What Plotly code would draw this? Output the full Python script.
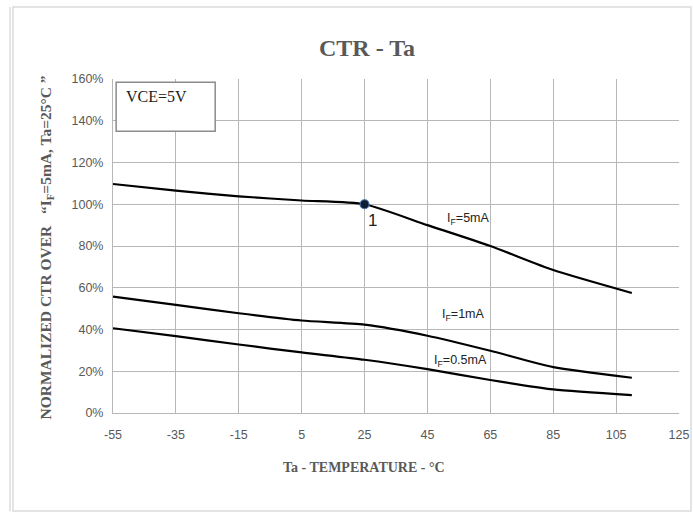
import plotly.graph_objects as go

temps = [-55, -35, -15, 5, 25, 45, 65, 85, 110]
ctr_5mA = [109.7, 106.5, 103.8, 101.8, 100.0, 90.0, 80.0, 68.5, 57.5]
ctr_1mA = [55.8, 51.8, 47.8, 44.3, 42.3, 37.0, 29.8, 22.0, 16.9]
ctr_05mA = [40.6, 36.8, 32.8, 29.0, 25.5, 21.0, 15.8, 11.3, 8.6]
series_labels = ["I<sub>F</sub>=5mA", "I<sub>F</sub>=1mA", "I<sub>F</sub>=0.5mA"]
label_pos = [(58, 93), (56.5, 47), (55.5, 24.8)]
x_ticks = [-55, -35, -15, 5, 25, 45, 65, 85, 105, 125]
y_ticks = [0, 20, 40, 60, 80, 100, 120, 140, 160]
ref_point = (25, 100.0)

fig = go.Figure()
for ys in [ctr_5mA, ctr_1mA, ctr_05mA]:
    fig.add_trace(go.Scatter(x=temps, y=ys, mode="lines",
                             line=dict(color="black", width=2.2, shape="spline", smoothing=0.6),
                             showlegend=False, hoverinfo="skip"))
fig.add_trace(go.Scatter(x=[ref_point[0]], y=[ref_point[1]], mode="markers",
                         marker=dict(color="#0d1b33", size=9, line=dict(color="#4a6fa5", width=1.2)),
                         showlegend=False, hoverinfo="skip"))

grid = "#b7b7b7"
fig.update_layout(
    width=693, height=513, autosize=False,
    margin=dict(l=113, r=14, t=79, b=100, autoexpand=False),
    paper_bgcolor="white", plot_bgcolor="white",
    title=dict(text="<b>CTR - Ta</b>", xref="paper", x=(367 - 113) / 566, xanchor="center",
               y=0.908, yanchor="middle",
               font=dict(family="Liberation Serif", size=24, color="#595959")),
    xaxis=dict(range=[-55, 125], tickvals=x_ticks, ticktext=[str(v) for v in x_ticks],
               showgrid=True, gridcolor=grid, gridwidth=1, zeroline=False, automargin=False,
               showline=True, linecolor=grid, linewidth=1, mirror=False,
               ticks="", tickfont=dict(family="Liberation Sans", size=12.5, color="#595959"),
               ticklabelstandoff=10),
    yaxis=dict(range=[0, 160], tickvals=y_ticks, ticktext=[f"{v}%" for v in y_ticks],
               showgrid=True, gridcolor=grid, gridwidth=1, zeroline=False, automargin=False,
               showline=True, linecolor=grid, linewidth=1,
               ticks="", tickfont=dict(family="Liberation Sans", size=12.5, color="#595959"),
               ticklabelstandoff=6),
)

annotations = []
for lab, (lx, ly) in zip(series_labels, label_pos):
    annotations.append(dict(x=lx, y=ly, xref="x", yref="y", text=lab, showarrow=False,
                            font=dict(family="Liberation Sans", size=12.5, color="#222222")))
annotations.append(dict(x=ref_point[0] + 0.3, y=ref_point[1] - 2.5, xref="x", yref="y", text="1",
                        showarrow=False, xanchor="left", yanchor="top",
                        font=dict(family="Liberation Sans", size=17, color="#222222")))
annotations.append(dict(x=-51.5, y=151.5, xref="x", yref="y", text="VCE=5V", showarrow=False,
                        xanchor="left", yanchor="middle",
                        font=dict(family="Liberation Serif", size=16, color="#222222")))
annotations.append(dict(x=(35 - 113) / 566, y=(413 - 248) / 334, xref="paper", yref="paper",
                        text="<b>NORMALIZED CTR OVER   \u201cI<sub>F</sub>=5mA, Ta=25\u00b0C \u201d</b>",
                        textangle=-90, showarrow=False,
                        font=dict(family="Liberation Serif", size=15.5, color="#595959")))
annotations.append(dict(x=(364 - 113) / 566, y=(413 - 477) / 334, xref="paper", yref="paper",
                        text="<b>Ta - TEMPERATURE - \u00b0C</b>", showarrow=False,
                        font=dict(family="Liberation Serif", size=14, color="#595959")))
fig.update_layout(annotations=annotations)

shapes = [
    dict(type="rect", xref="x", yref="y", x0=-54, x1=-22.5, y0=135, y1=158.5,
         line=dict(color="#8c8c8c", width=1.5), fillcolor="white", layer="above"),
    dict(type="rect", xref="paper", yref="paper", x0=(13 - 113) / 566, x1=(691 - 113) / 566,
         y0=(413 - 511) / 334, y1=(413 - 7) / 334, line=dict(color="#dcdcdc", width=1.5)),
    dict(type="line", xref="paper", yref="paper", x0=(10 - 113) / 566, x1=(10 - 113) / 566,
         y0=(413 - 511) / 334, y1=(413 - 7) / 334, line=dict(color="#dcdcdc", width=1.5)),
]
fig.update_layout(shapes=shapes)

fig.write_html("out.html", config={"displayModeBar": False, "responsive": False},
               post_script="document.body.style.margin='0';document.body.style.padding='0';document.body.style.overflow='hidden';")
